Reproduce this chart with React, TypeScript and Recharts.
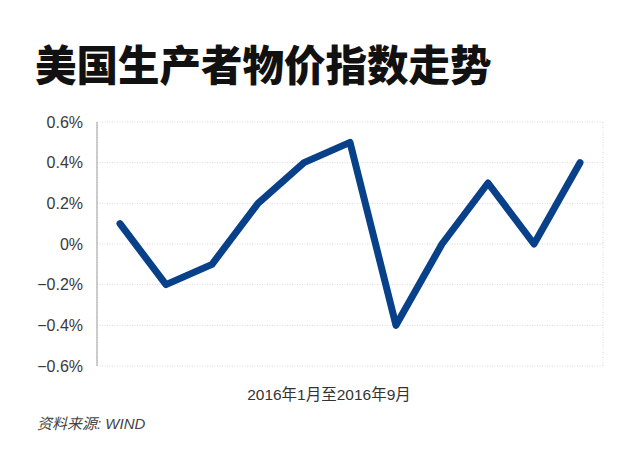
import React from "react";
import { LineChart, Line, XAxis, YAxis, CartesianGrid } from "recharts";

// 月度数据点（索引）与生产者物价指数环比
const months = [0, 1, 2, 3, 4, 5, 6, 7, 8, 9, 10];
const ppiValues = [0.1, -0.2, -0.1, 0.2, 0.4, 0.5, -0.4, 0.0, 0.3, 0.0, 0.4];

// 纵轴刻度（%）
const yTicks = [-0.6, -0.4, -0.2, 0, 0.2, 0.4, 0.6];
// 竖向网格线位置（与数据点间距不同）
const xGridTicks = [0.6, 1.7, 2.8, 3.9, 5.0, 6.1, 7.2, 8.3, 9.4, 10.5];

const title = "美国生产者物价指数走势";
const xLabel = "2016年1月至2016年9月";
const source = "资料来源: WIND";

const data = months.map((m, i) => ({ m, value: ppiValues[i] }));

const formatPct = (v: number): string => {
  if (Math.abs(v) < 1e-9) return "0%";
  const s = `${Math.abs(v).toFixed(1)}%`;
  return v < 0 ? `\u2212${s}` : s;
};

export default function App() {
  return (
    <div
      style={{
        position: "absolute",
        left: 0,
        top: 0,
        width: 640,
        height: 466,
        background: "#fff",
        overflow: "hidden",
      }}
    >
      {/* 标题 */}
      <div
        style={{
          position: "absolute",
          left: 35,
          top: 36,
          fontFamily: '"Noto Sans CJK SC", sans-serif',
          fontWeight: 900,
          fontSize: 41.5,
          lineHeight: "54px",
          color: "#111",
          whiteSpace: "nowrap",
        }}
      >
        {title}
      </div>

      <div style={{ position: "absolute", left: 0, top: 0 }}>
        <LineChart
          width={640}
          height={466}
          data={data}
          margin={{ top: 122, right: 37, bottom: 100, left: 37 }}
        >
          <CartesianGrid
            stroke="#d9d9d9"
            strokeDasharray="1 1.5"
            strokeWidth={1}
          />
          <XAxis
            dataKey="m"
            type="number"
            domain={[-0.5, 10.5]}
            ticks={xGridTicks}
            tick={false}
            tickLine={false}
            height={0}
            axisLine={{ stroke: "#8a8a8a", strokeWidth: 2 }}
          />
          <YAxis
            type="number"
            domain={[-0.6, 0.6]}
            ticks={yTicks}
            width={60}
            tickLine={false}
            tickSize={0}
            tickMargin={14}
            tickFormatter={formatPct}
            axisLine={{ stroke: "#a0a0a0", strokeWidth: 1 }}
            tick={{
              fill: "#3a3a3a",
              fontSize: 16,
              fontFamily: '"Liberation Sans", Arial, sans-serif',
            }}
          />
          <Line
            type="linear"
            dataKey="value"
            stroke="#08408a"
            strokeWidth={7}
            strokeLinecap="round"
            strokeLinejoin="round"
            dot={false}
            activeDot={false}
            isAnimationActive={false}
          />
        </LineChart>
      </div>

      {/* 横轴说明 */}
      <div
        style={{
          position: "absolute",
          left: 0,
          width: 658,
          top: 382,
          textAlign: "center",
          fontFamily: '"Liberation Sans", "Noto Sans CJK SC", sans-serif',
          fontSize: 15.5,
          color: "#333",
        }}
      >
        {xLabel}
      </div>

      {/* 数据来源 */}
      <div
        style={{
          position: "absolute",
          left: 37,
          top: 412,
          fontFamily: '"Liberation Sans", "Noto Sans CJK SC", sans-serif',
          fontStyle: "italic",
          fontSize: 15,
          color: "#444",
        }}
      >
        {source}
      </div>
    </div>
  );
}
